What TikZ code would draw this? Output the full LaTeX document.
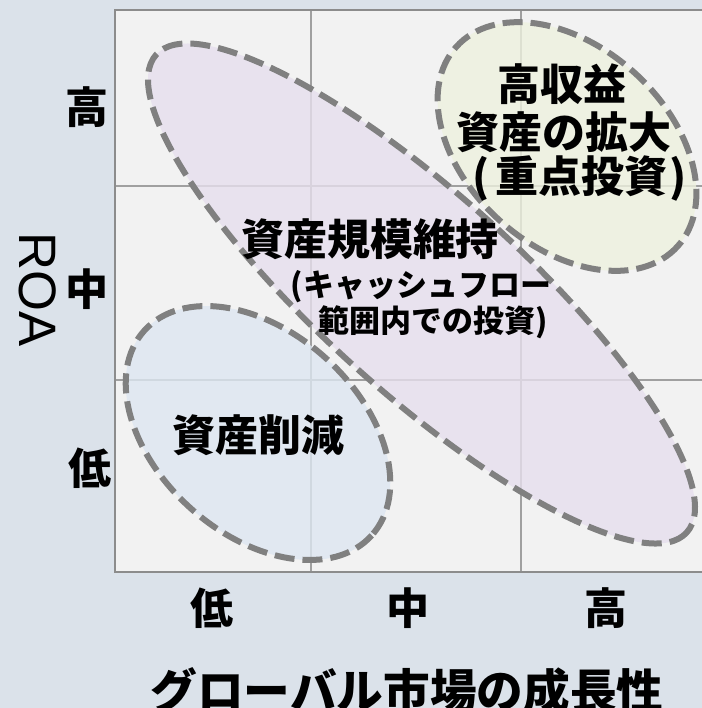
\documentclass[tikz,border=0pt]{standalone}
\usepackage{fontspec}
\setmainfont{Noto Sans CJK JP}
\newfontfamily\latinsans{Liberation Sans}
\usepackage{xcolor}
\usepackage{tikz}
\usetikzlibrary{positioning}
\definecolor{bgblue}{HTML}{DBE2EA}
\definecolor{plotgray}{HTML}{F2F2F2}
\definecolor{framegray}{HTML}{8C8C8C}
\definecolor{gridgray}{HTML}{A0A0A0}
\definecolor{dashgray}{HTML}{808080}
\definecolor{zonepurple}{HTML}{E6DFED}
\definecolor{zonegreen}{HTML}{EDF1DE}
\definecolor{zoneblue}{HTML}{DDE6F1}
\tikzset{
  zone/.style={draw=dashgray, line width=4.5pt, dash pattern=on 15pt off 6pt, fill opacity=0.8},
  gridline/.style={draw=gridgray, line width=1.3pt},
  frame/.style={draw=framegray, line width=2.2pt},
  biglabel/.style={font=\fontsize{32.25pt}{35.25pt}\selectfont\bfseries, inner sep=0pt},
  smalllabel/.style={font=\fontsize{23.25pt}{26.25pt}\selectfont\bfseries, inner sep=0pt},
  axistitle/.style={font=\fontsize{35pt}{38pt}\selectfont\bfseries, inner sep=0pt},
}

\begin{document}
\begin{tikzpicture}[x=0.75pt,y=-0.75pt]
\useasboundingbox (0,0) rectangle (702,708);
\clip (0,0) rectangle (702,708);
\fill[bgblue] (0,0) rectangle (702,708);
\fill[plotgray] (115,10) rectangle (712,572);
% grid
\foreach \gx in {311,521}
  \draw[gridline] (\gx,10) -- (\gx,572);
\foreach \gy in {186,380}
  \draw[gridline] (115,\gy) -- (712,\gy);
\draw[frame] (712,10) -- (115,10) -- (115,572) -- (712,572);
% zones
\draw[zone, fill=zonepurple, shift={(421.5,293.5)}, rotate=-42] (0,0) ellipse [x radius=357, y radius=99];
\draw[zone, fill=zoneblue, shift={(258,433)}, rotate=-42] (0,0) ellipse [x radius=153, y radius=101];
\draw[zone, fill=zonegreen, shift={(567,146.5)}, rotate=-42] (0,0) ellipse [x radius=149, y radius=100];
% zone texts
\node[biglabel] (expand-a) at (562,84) {高収益};
\node[biglabel] (expand-b) at (564,132) {資産の拡大};
\node[biglabel] (expand-c) at (580,178) {(\kern0.12em 重点投資\kern0.06em)};
\node[biglabel] (keep) at (370,239) {資産規模維持};
\node[smalllabel] (keep-a) at (421,287) {(キャッシュフロー};
\node[smalllabel] (keep-b) at (433,322) {範囲内での投資)};
\node[biglabel] (reduce) at (258,435) {資産削減};
% axes
\node[biglabel] (roa-hi) at (87,107) {高};
\node[biglabel] (roa-mid) at (87,289) {中};
\node[biglabel] (roa-lo) at (90,468) {低};
\node[font=\fontsize{39.5pt}{42pt}\selectfont\latinsans, inner sep=0pt, rotate=-90] (roa) at (37.5,290) {ROA};
\node[biglabel] (gr-lo) at (212,608) {低};
\node[biglabel] (gr-mid) at (408,608) {中};
\node[biglabel] (gr-hi) at (606,608) {高};
\node[axistitle] (growth) at (407,691) {グローバル市場の成長性};
\end{tikzpicture}
\end{document}
